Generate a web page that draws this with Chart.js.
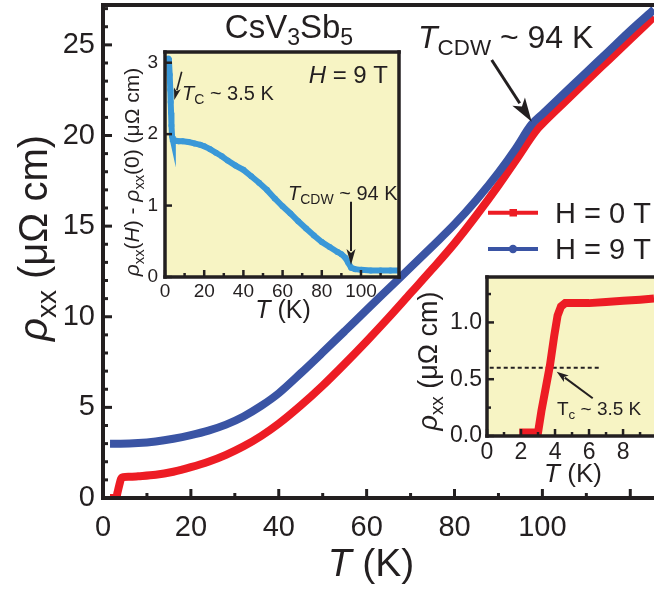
<!DOCTYPE html>
<html>
<head>
<meta charset="utf-8">
<script src="https://cdn.jsdelivr.net/npm/chart.js@4.4.0/dist/chart.umd.min.js"></script>
<style>
body { margin: 0; background: #fff; }
#wrap { position: relative; width: 654px; height: 589px; }
canvas { position: absolute; left: 0; top: 0; }
</style>
</head>
<body>
<div id="wrap">
<canvas id="main" width="654" height="589"></canvas>
<canvas id="inset1" width="654" height="589"></canvas>
<canvas id="inset2" width="654" height="589"></canvas>
</div>
<script>
// main panel: rho_xx(T) at 0 T and 9 T
var t0 = [1.6, 3.0, 3.3, 3.7, 4.1, 4.6, 6, 8, 12, 16, 20, 24, 28, 32, 36, 40, 45, 50, 55, 60, 65, 70, 75, 80, 85, 90, 94, 98.5, 100, 105, 110, 115, 120, 125.4];
var rho0 = [0.0, 0.0, 0.3, 0.7, 1.05, 1.15, 1.17, 1.2, 1.28, 1.45, 1.7, 2.0, 2.38, 2.85, 3.42, 4.1, 5.1, 6.2, 7.4, 8.65, 9.95, 11.3, 12.65, 14.05, 15.6, 17.25, 18.65, 20.25, 20.65, 21.83, 23.0, 24.15, 25.3, 26.55];
var t9 = [1.6, 4, 8, 12, 16, 20, 24, 28, 32, 36, 40, 45, 50, 55, 60, 65, 70, 75, 80, 85, 90, 94, 97.5, 100, 105, 110, 115, 120, 125.4];
var rho9 = [3.00, 3.00, 3.03, 3.12, 3.27, 3.47, 3.72, 4.05, 4.5, 5.08, 5.78, 6.88, 8.03, 9.2, 10.38, 11.55, 12.72, 13.9, 15.1, 16.45, 17.95, 19.3, 20.6, 21.18, 22.33, 23.48, 24.63, 25.78, 26.95];
var mainXTicks = [0, 20, 40, 60, 80, 100];
var mainYTicks = [0, 5, 10, 15, 20, 25];

// inset 1: rho_xx(9 T) - rho_xx(0)
var tDiff = [1.7, 2.0, 2.4, 2.7, 2.9, 3.1, 3.3, 3.6, 4.0, 5, 7, 9, 12, 15, 18, 20, 23, 26, 29, 32, 36, 40, 44, 48, 52, 56, 60, 64, 68, 72, 76, 80, 84, 88, 90, 92, 93.5, 95, 97, 100, 105, 110, 115, 119.4];
var rhoDiff = [3.06, 3.04, 2.83, 2.62, 2.45, 2.3, 2.12, 1.97, 1.92, 1.91, 1.90, 1.90, 1.89, 1.87, 1.85, 1.83, 1.79, 1.74, 1.69, 1.63, 1.56, 1.50, 1.41, 1.32, 1.22, 1.10, 0.99, 0.89, 0.78, 0.68, 0.58, 0.49, 0.42, 0.35, 0.32, 0.27, 0.20, 0.13, 0.11, 0.10, 0.09, 0.09, 0.09, 0.09];
var diffXTicks = [0, 20, 40, 60, 80, 100];
var diffYTicks = [0, 1, 2, 3];

// inset 2: low temperature transition at 0 T
var tLow = [1.9, 2.5, 3.0, 3.2, 3.45, 3.7, 3.95, 4.15, 4.35, 4.6, 5, 6, 7, 8, 9, 9.82];
var rhoLow = [0.03, 0.03, 0.03, 0.22, 0.42, 0.62, 0.88, 1.06, 1.14, 1.17, 1.17, 1.17, 1.18, 1.19, 1.20, 1.21];
var lowXTicks = [0, 2, 4, 6, 8];
var lowYTicks = [0, 0.5, 1.0];
var tcLevel = 0.6;
var tcLine = [0.16, 6.57];

var ink = "#231f20";
var fam = "'Liberation Sans', Arial, sans-serif";
var red = "#ed1c24";
var blue = "#3a54a4";
var lightBlue = "#3a98d8";
var pale = "#f7f4c4";

function pts(xs, ys) {
    return xs.map(function(x, i) { return {x: x, y: ys[i]}; });
}

function line(ctx, x0, y0, x1, y1) {
    ctx.beginPath();
    ctx.moveTo(x0, y0);
    ctx.lineTo(x1, y1);
    ctx.stroke();
}

function arrow(ctx, x0, y0, x1, y1, lw, hl, hw) {
    var a = Math.atan2(y1 - y0, x1 - x0);
    var bx = x1 - hl * Math.cos(a), by = y1 - hl * Math.sin(a);
    ctx.strokeStyle = ink;
    ctx.fillStyle = ink;
    ctx.lineWidth = lw;
    line(ctx, x0, y0, bx + 2 * Math.cos(a), by + 2 * Math.sin(a));
    ctx.beginPath();
    ctx.moveTo(x1, y1);
    ctx.lineTo(bx + hw / 2 * Math.sin(a), by - hw / 2 * Math.cos(a));
    ctx.lineTo(bx + 0.25 * hl * Math.cos(a), by + 0.25 * hl * Math.sin(a));
    ctx.lineTo(bx - hw / 2 * Math.sin(a), by + hw / 2 * Math.cos(a));
    ctx.closePath();
    ctx.fill();
}

// parts: [text, flags] where flags may hold "i" (italic) and "s" (subscript)
function rich(ctx, parts, x, y, size, align) {
    var w = 0;
    var items = parts.map(function(p) {
        var f = p[1] || "";
        var sz = f.indexOf("s") >= 0 ? size * 0.7 : size;
        var font = (f.indexOf("i") >= 0 ? "italic " : "") + sz + "px " + fam;
        ctx.font = font;
        var wd = ctx.measureText(p[0]).width;
        w += wd;
        return {t: p[0], font: font, w: wd, dy: f.indexOf("s") >= 0 ? size * 0.22 : 0};
    });
    var cx = align === "center" ? x - w / 2 : (align === "right" ? x - w : x);
    ctx.fillStyle = ink;
    ctx.textAlign = "left";
    ctx.textBaseline = "alphabetic";
    items.forEach(function(it) {
        ctx.font = it.font;
        ctx.fillText(it.t, cx, y + it.dy);
        cx += it.w;
    });
}

function richUp(ctx, parts, x, y, size) {
    ctx.save();
    ctx.translate(x, y);
    ctx.rotate(-Math.PI / 2);
    rich(ctx, parts, 0, 0, size, "center");
    ctx.restore();
}

// pale background, box and inward ticks
var framePlugin = {
    id: "frame",
    beforeDraw: function(chart, args, o) {
        if (!o.bg) return;
        var a = chart.chartArea, ctx = chart.ctx;
        ctx.fillStyle = o.bg;
        ctx.fillRect(a.left, a.top, a.right - a.left, a.bottom - a.top);
    },
    afterDraw: function(chart, args, o) {
        var a = chart.chartArea, ctx = chart.ctx;
        var xs = chart.scales.x, ys = chart.scales.y;
        ctx.save();
        ctx.strokeStyle = ink;
        ctx.lineWidth = o.tw;
        var n, v, p, major;
        for (n = Math.ceil(xs.min / o.xMinor); n * o.xMinor <= xs.max + 1e-9; n++) {
            v = n * o.xMinor;
            major = Math.abs(v / o.xMajor - Math.round(v / o.xMajor)) < 1e-6;
            p = xs.getPixelForValue(v);
            line(ctx, p, a.bottom, p, a.bottom - (major ? o.majLen : o.minLen));
        }
        for (n = Math.ceil(ys.min / o.yMinor); n * o.yMinor <= ys.max + 1e-9; n++) {
            v = n * o.yMinor;
            major = Math.abs(v / o.yMajor - Math.round(v / o.yMajor)) < 1e-6;
            p = ys.getPixelForValue(v);
            line(ctx, a.left, p, a.left + (major ? o.majLen : o.minLen), p);
        }
        ctx.lineWidth = o.lw;
        ctx.lineCap = "square";
        if (o.boxTop) line(ctx, a.left, a.top, a.right, a.top);
        if (o.boxRight) line(ctx, a.right, a.top, a.right, a.bottom);
        line(ctx, a.left, a.top, a.left, a.bottom);
        line(ctx, a.left, a.bottom, a.right, a.bottom);
        ctx.restore();
    }
};

function axis(min, max, ticks, size, pad, fit, isY, fmt) {
    return {
        type: "linear",
        min: min,
        max: max,
        grid: {display: false, drawTicks: false},
        border: {display: false},
        ticks: {
            color: ink,
            font: {family: fam, size: size},
            padding: pad,
            maxRotation: 0,
            autoSkip: false,
            callback: fmt || function(v) { return String(v); }
        },
        afterBuildTicks: function(s) {
            s.ticks = ticks.map(function(v) { return {value: v}; });
        },
        afterFit: function(s) {
            if (isY) { s.width = fit; } else { s.height = fit; }
            s.paddingTop = 0;
            s.paddingBottom = 0;
            s.paddingLeft = 0;
            s.paddingRight = 0;
        }
    };
}

function baseOptions(padding, frame, scales) {
    return {
        responsive: false,
        animation: false,
        events: [],
        layout: {padding: padding},
        plugins: {legend: {display: false}, tooltip: {enabled: false}, frame: frame},
        scales: scales
    };
}

// ---------- main panel ----------
var mainNotes = {
    id: "mainNotes",
    afterDraw: function(chart) {
        var ctx = chart.ctx;
        rich(ctx, [["T", "i"], [" (K)"]], 371, 576, 39, "center");
        richUp(ctx, [["\u03c1", "i"], ["xx", "s"], [" (\u03bc\u03a9 cm)"]], 47, 238, 40);
        rich(ctx, [["CsV"], ["3", "s"], ["Sb"], ["5", "s"]], 289, 38, 33, "center");
        rich(ctx, [["T", "i"], ["CDW", "s"], [" ~ 94 K"]], 418, 48, 32, "left");
        arrow(ctx, 491.7, 60, 531.7, 121.7, 3, 24, 15);

        // legend
        ctx.save();
        ctx.lineWidth = 4;
        ctx.strokeStyle = red;
        line(ctx, 488, 212.7, 538, 212.7);
        ctx.fillStyle = red;
        ctx.fillRect(509.5, 209, 7.5, 7.5);
        ctx.strokeStyle = blue;
        line(ctx, 488, 249, 538, 249);
        ctx.fillStyle = blue;
        ctx.beginPath();
        ctx.arc(513, 249, 4.2, 0, 2 * Math.PI);
        ctx.fill();
        ctx.restore();
        rich(ctx, [["H = 0 T"]], 555, 223, 29, "left");
        rich(ctx, [["H = 9 T"]], 555, 258.5, 29, "left");
    }
};

new Chart("main", {
    type: "line",
    data: {
        datasets: [{
            label: "H = 9 T",
            data: pts(t9, rho9),
            borderColor: blue,
            borderWidth: 8,
            pointRadius: 0,
            cubicInterpolationMode: "monotone"
        }, {
            label: "H = 0 T",
            data: pts(t0, rho0),
            borderColor: red,
            borderWidth: 8,
            pointRadius: 0,
            cubicInterpolationMode: "monotone"
        }]
    },
    options: baseOptions(
        {top: 5, right: 0, left: 0, bottom: 0},
        {tw: 3, lw: 4, boxTop: true, boxRight: false, xMajor: 20, xMinor: 10, yMajor: 5, yMinor: 1, majLen: 9, minLen: 5},
        {
            x: axis(0, 125.4, mainXTicks, 29, 13, 91, false),
            y: axis(0, 27.2, mainYTicks, 29, 8, 103, true)
        }
    ),
    plugins: [framePlugin, mainNotes]
});

// ---------- inset 1 ----------
var diffNotes = {
    id: "diffNotes",
    afterDraw: function(chart) {
        var ctx = chart.ctx;
        rich(ctx, [["T", "i"], [" (K)"]], 283, 318, 25, "center");
        richUp(ctx, [["\u03c1", "i"], ["xx", "s"], ["("], ["H", "i"], [") - "], ["\u03c1", "i"], ["xx", "s"], ["(0) (\u03bc\u03a9 cm)"]], 139, 172, 21);
        rich(ctx, [["H", "i"], [" = 9 T"]], 388, 83, 24, "right");
        rich(ctx, [["T", "i"], ["C", "s"], [" ~ 3.5 K"]], 182, 100, 20, "left");
        rich(ctx, [["T", "i"], ["CDW", "s"], [" ~ 94 K"]], 288, 200, 20, "left");
        arrow(ctx, 181.7, 71.7, 174.3, 100, 1.6, 12, 7);
        arrow(ctx, 351, 201.7, 351, 265, 2, 16, 9);
    }
};

new Chart("inset1", {
    type: "line",
    data: {
        datasets: [{
            label: "rho(9 T) - rho(0)",
            data: pts(tDiff, rhoDiff),
            borderColor: lightBlue,
            backgroundColor: lightBlue,
            borderWidth: 6,
            pointRadius: 3,
            pointBorderWidth: 0
        }]
    },
    options: baseOptions(
        {top: 52, right: 255, left: 105, bottom: 262},
        {bg: pale, tw: 2.5, lw: 3.5, boxTop: true, boxRight: true, xMajor: 20, xMinor: 10, yMajor: 1, yMinor: 1, majLen: 7, minLen: 4},
        {
            x: axis(0, 119.4, diffXTicks, 19, 3, 50, false),
            y: axis(0, 3.15, diffYTicks, 19, 7, 60, true)
        }
    ),
    plugins: [framePlugin, diffNotes]
});

// ---------- inset 2 ----------
var lowNotes = {
    id: "lowNotes",
    afterDraw: function(chart) {
        var ctx = chart.ctx;
        rich(ctx, [["T", "i"], [" (K)"]], 573, 482, 26, "center");
        richUp(ctx, [["\u03c1", "i"], ["xx", "s"], [" (\u03bc\u03a9 cm)"]], 437, 361, 27);
        rich(ctx, [["T"], ["c", "s"], [" ~ 3.5 K"]], 557, 415, 19, "left");
        arrow(ctx, 592.7, 398.3, 556.7, 371.7, 2, 12, 8);
    }
};

new Chart("inset2", {
    type: "line",
    data: {
        datasets: [{
            label: "H = 0 T",
            data: pts(tLow, rhoLow),
            borderColor: red,
            borderWidth: 8,
            pointRadius: 0
        }, {
            label: "Tc level",
            data: pts(tcLine, [tcLevel, tcLevel]),
            borderColor: ink,
            borderWidth: 2,
            borderDash: [4, 3],
            pointRadius: 0
        }]
    },
    options: baseOptions(
        {top: 277, right: 0, left: 407, bottom: 103},
        {bg: pale, tw: 2.5, lw: 3.5, boxTop: true, boxRight: false, xMajor: 2, xMinor: 1, yMajor: 0.5, yMinor: 0.25, majLen: 7, minLen: 4},
        {
            x: axis(0, 9.82, lowXTicks, 23, 3, 50, false),
            y: axis(0, 1.4, lowYTicks, 23, 5, 80, true, function(v) { return v.toFixed(1); })
        }
    ),
    plugins: [framePlugin, lowNotes]
});
</script>
</body>
</html>
